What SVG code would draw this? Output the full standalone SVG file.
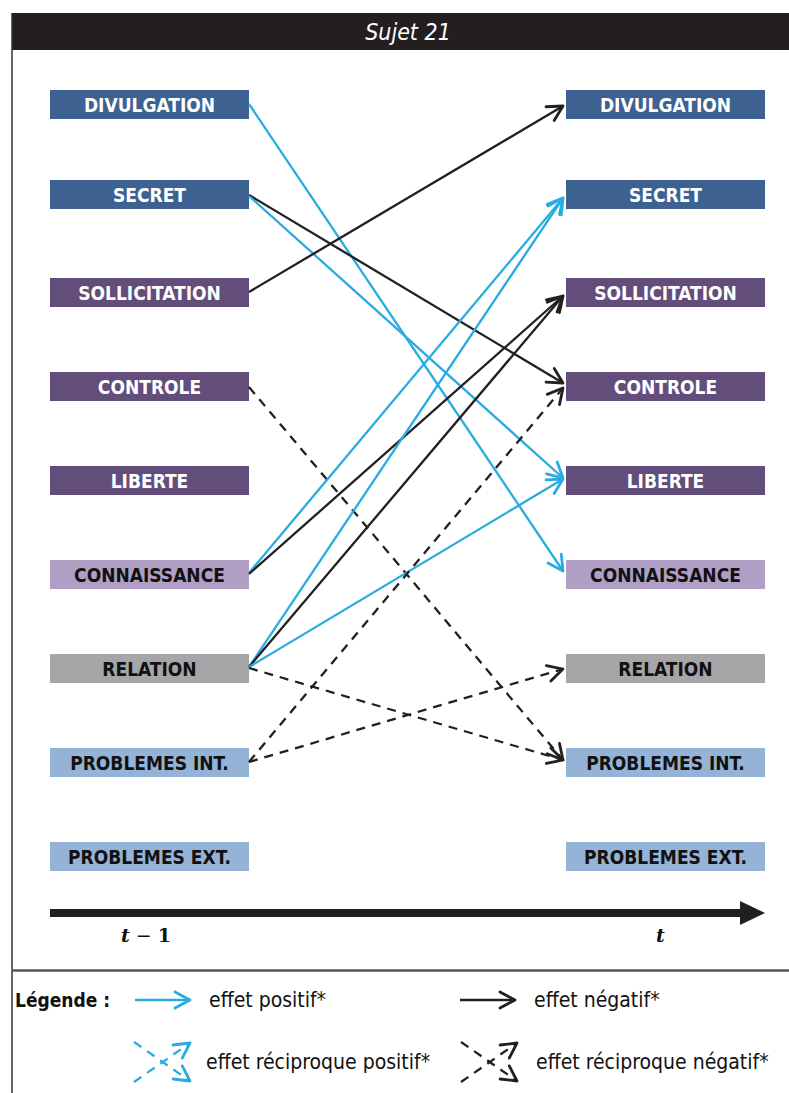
<svg xmlns="http://www.w3.org/2000/svg" width="789" height="1093" viewBox="0 0 789 1093">
  <defs>
    <marker id="ab" markerUnits="userSpaceOnUse" markerWidth="22" markerHeight="22" viewBox="-18 -11 22 22" refX="0" refY="0" orient="auto">
      <path d="M-15,-8 L0,0 L-15,8" fill="none" stroke="#29abe2" stroke-width="2.8" stroke-linecap="round" stroke-linejoin="round"/>
    </marker>
    <marker id="ak" markerUnits="userSpaceOnUse" markerWidth="22" markerHeight="22" viewBox="-18 -11 22 22" refX="0" refY="0" orient="auto">
      <path d="M-15,-8 L0,0 L-15,8" fill="none" stroke="#231f20" stroke-width="2.8" stroke-linecap="round" stroke-linejoin="round"/>
    </marker>
  </defs>
  <style>
    .box-db { fill: #3d6191; }
    .box-pu { fill: #634d7a; }
    .box-lp { fill: #b09ec5; }
    .box-gr { fill: #a6a6a8; }
    .box-lb { fill: #95b3d7; }
    .lbl { font-family: "DejaVu Sans Condensed", "DejaVu Sans", sans-serif; font-stretch: condensed; font-weight: bold; font-size: 19px; text-anchor: middle; }
    .w { fill: #ffffff; }
    .k { fill: #111111; }
    .pos { stroke: #29abe2; stroke-width: 2.3; fill: none; marker-end: url(#ab); }
    .neg { stroke: #231f20; stroke-width: 2.3; fill: none; marker-end: url(#ak); }
    .posd { stroke: #29abe2; stroke-width: 2.3; fill: none; stroke-dasharray: 9 7; marker-end: url(#ab); }
    .negd { stroke: #231f20; stroke-width: 2.3; fill: none; stroke-dasharray: 9 7; marker-end: url(#ak); }
    .leg { font-family: "DejaVu Sans Condensed", "DejaVu Sans", sans-serif; font-stretch: condensed; font-size: 21px; fill: #111; }
    .math { font-family: "DejaVu Serif", "Liberation Serif", serif; font-size: 19px; fill: #111; font-weight: bold; }
  </style>

  <!-- frame -->
  <g id="frame">
    <rect x="12" y="13" width="777" height="37" fill="#231f20"/>
    <text x="408" y="40" font-family="DejaVu Sans Condensed, DejaVu Sans, sans-serif" font-stretch="condensed" font-style="italic" font-size="23" fill="#ffffff" text-anchor="middle">Sujet 21</text>
    <line x1="12" y1="13" x2="12" y2="1093" stroke="#333" stroke-width="1.5"/>
    <line x1="12" y1="970.5" x2="789" y2="970.5" stroke="#555" stroke-width="2.5"/>
  </g>

  <!-- left column -->
  <g id="L-divulgation"><rect class="box-db" x="50" y="90" width="199" height="29"/><text class="lbl w" x="149.5" y="112">DIVULGATION</text></g>
  <g id="L-secret"><rect class="box-db" x="50" y="180" width="199" height="29"/><text class="lbl w" x="149.5" y="202">SECRET</text></g>
  <g id="L-sollicitation"><rect class="box-pu" x="50" y="278" width="199" height="29"/><text class="lbl w" x="149.5" y="300">SOLLICITATION</text></g>
  <g id="L-controle"><rect class="box-pu" x="50" y="372" width="199" height="29"/><text class="lbl w" x="149.5" y="394">CONTROLE</text></g>
  <g id="L-liberte"><rect class="box-pu" x="50" y="466" width="199" height="29"/><text class="lbl w" x="149.5" y="488">LIBERTE</text></g>
  <g id="L-connaissance"><rect class="box-lp" x="50" y="560" width="199" height="29"/><text class="lbl k" x="149.5" y="582">CONNAISSANCE</text></g>
  <g id="L-relation"><rect class="box-gr" x="50" y="654" width="199" height="29"/><text class="lbl k" x="149.5" y="676">RELATION</text></g>
  <g id="L-problemes-int"><rect class="box-lb" x="50" y="748" width="199" height="29"/><text class="lbl k" x="149.5" y="770">PROBLEMES INT.</text></g>
  <g id="L-problemes-ext"><rect class="box-lb" x="50" y="842" width="199" height="29"/><text class="lbl k" x="149.5" y="864">PROBLEMES EXT.</text></g>

  <!-- right column -->
  <g id="R-divulgation"><rect class="box-db" x="566" y="90" width="199" height="29"/><text class="lbl w" x="665.5" y="112">DIVULGATION</text></g>
  <g id="R-secret"><rect class="box-db" x="566" y="180" width="199" height="29"/><text class="lbl w" x="665.5" y="202">SECRET</text></g>
  <g id="R-sollicitation"><rect class="box-pu" x="566" y="278" width="199" height="29"/><text class="lbl w" x="665.5" y="300">SOLLICITATION</text></g>
  <g id="R-controle"><rect class="box-pu" x="566" y="372" width="199" height="29"/><text class="lbl w" x="665.5" y="394">CONTROLE</text></g>
  <g id="R-liberte"><rect class="box-pu" x="566" y="466" width="199" height="29"/><text class="lbl w" x="665.5" y="488">LIBERTE</text></g>
  <g id="R-connaissance"><rect class="box-lp" x="566" y="560" width="199" height="29"/><text class="lbl k" x="665.5" y="582">CONNAISSANCE</text></g>
  <g id="R-relation"><rect class="box-gr" x="566" y="654" width="199" height="29"/><text class="lbl k" x="665.5" y="676">RELATION</text></g>
  <g id="R-problemes-int"><rect class="box-lb" x="566" y="748" width="199" height="29"/><text class="lbl k" x="665.5" y="770">PROBLEMES INT.</text></g>
  <g id="R-problemes-ext"><rect class="box-lb" x="566" y="842" width="199" height="29"/><text class="lbl k" x="665.5" y="864">PROBLEMES EXT.</text></g>

  <!-- connectors -->
  <g id="connectors">
    <line class="pos" x1="249" y1="104" x2="563" y2="571"/>
    <line class="neg" x1="249" y1="195" x2="563" y2="383"/>
    <line class="pos" x1="249" y1="196" x2="563" y2="478"/>
    <line class="neg" x1="249" y1="292" x2="563" y2="106"/>
    <line class="negd" x1="249" y1="387" x2="563" y2="760"/>
    <line class="pos" x1="249" y1="573" x2="563" y2="198"/>
    <line class="neg" x1="249" y1="574" x2="563" y2="296"/>
    <line class="pos" x1="249" y1="667" x2="563" y2="198"/>
    <line class="neg" x1="249" y1="667" x2="563" y2="296"/>
    <line class="pos" x1="249" y1="667" x2="563" y2="479"/>
    <line class="negd" x1="249" y1="668" x2="563" y2="760"/>
    <line class="negd" x1="249" y1="762" x2="563" y2="388"/>
    <line class="negd" x1="249" y1="762" x2="563" y2="669"/>
  </g>

  <!-- timeline -->
  <g id="timeline">
    <line x1="50" y1="913" x2="742" y2="913" stroke="#231f20" stroke-width="8"/>
    <polygon points="740,901 765,913 740,925" fill="#231f20"/>
    <text class="math" x="121" y="942"><tspan font-style="italic">t</tspan><tspan font-weight="normal"> − </tspan><tspan>1</tspan></text>
    <text class="math" x="656" y="942" font-style="italic">t</text>
  </g>

  <!-- legend -->
  <g id="legend">
    <text x="15" y="1007" font-family="DejaVu Sans Condensed, DejaVu Sans, sans-serif" font-stretch="condensed" font-weight="bold" font-size="19" fill="#111">Légende :</text>
    <line class="pos" x1="135" y1="1000" x2="190" y2="1000"/>
    <text class="leg" x="209" y="1007">effet positif*</text>
    <line class="neg" x1="460" y1="1000" x2="515" y2="1000"/>
    <text class="leg" x="534" y="1007">effet négatif*</text>
    <line class="posd" x1="134" y1="1042" x2="190" y2="1081"/>
    <line class="posd" x1="134" y1="1082" x2="190" y2="1043"/>
    <text class="leg" x="206" y="1069">effet réciproque positif*</text>
    <line class="negd" x1="461" y1="1042" x2="517" y2="1081"/>
    <line class="negd" x1="461" y1="1082" x2="517" y2="1043"/>
    <text class="leg" x="536" y="1069">effet réciproque négatif*</text>
  </g>
</svg>
